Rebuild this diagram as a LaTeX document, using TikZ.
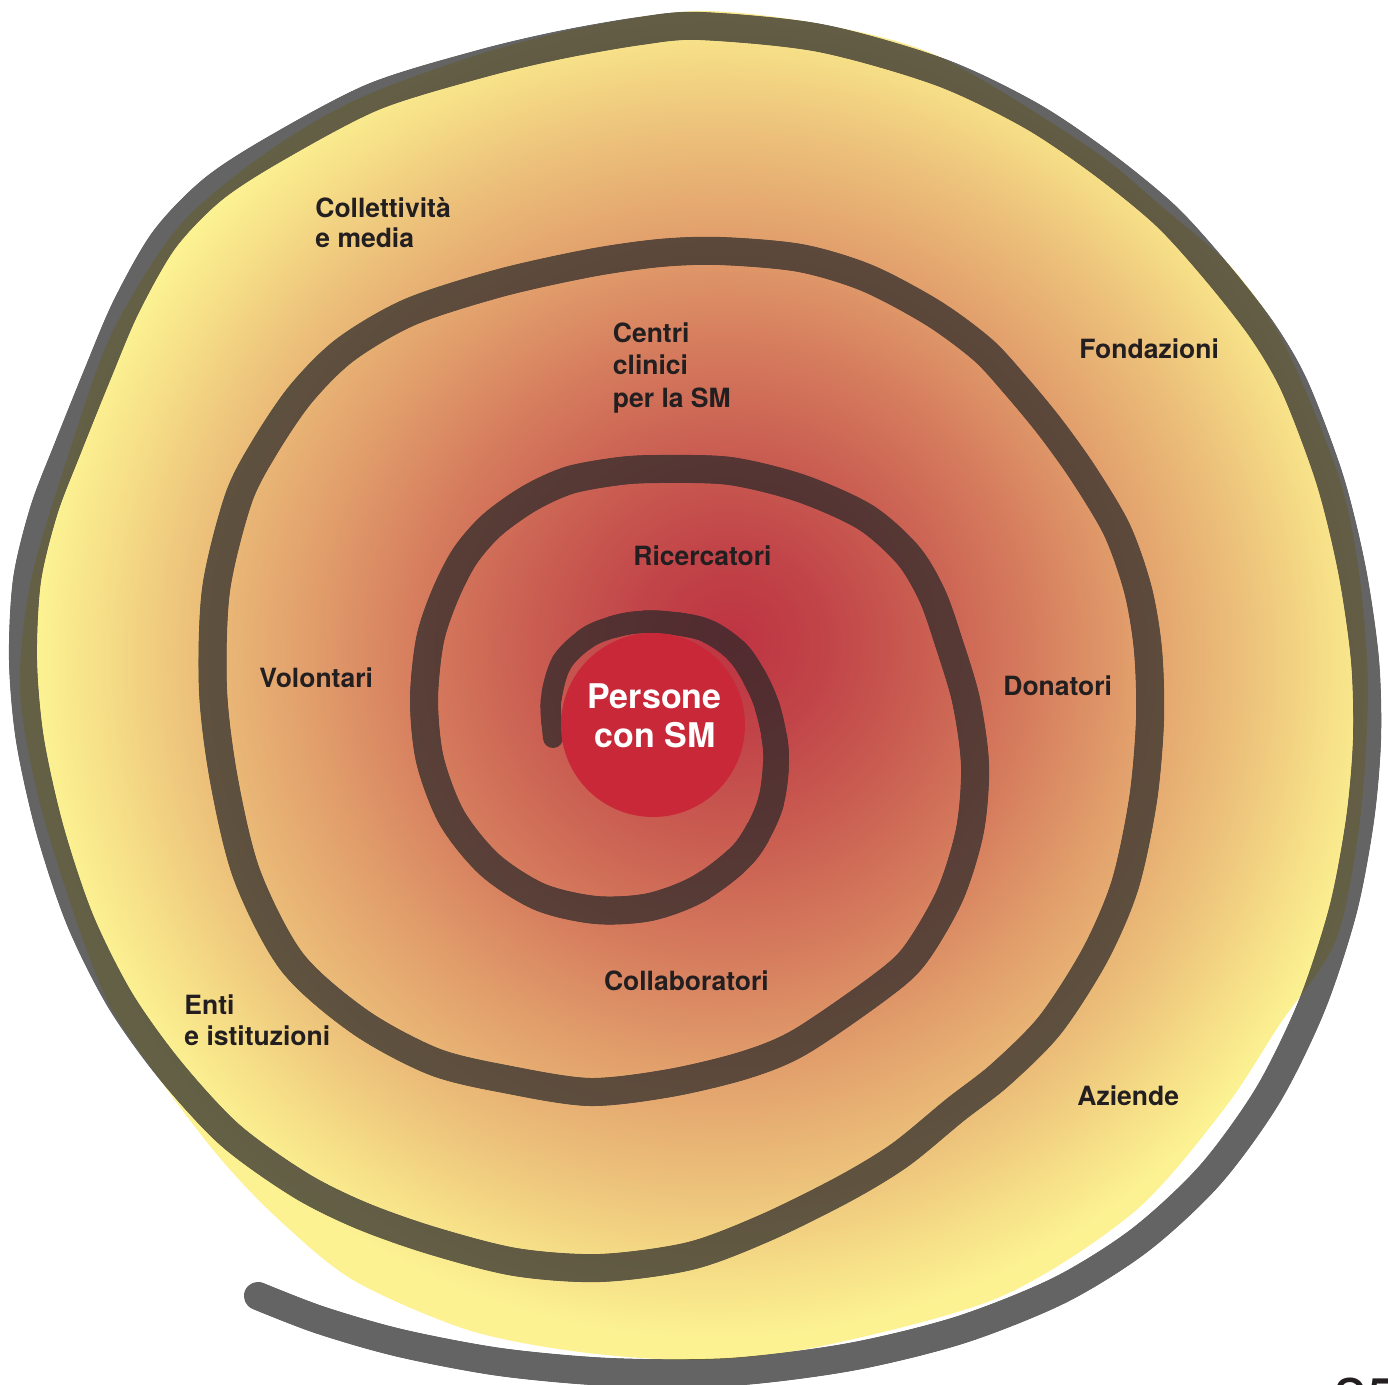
\documentclass[tikz,border=0pt]{standalone}
\usepackage{fontspec}
\setmainfont{TeX Gyre Heros}
\usetikzlibrary{calc}
\definecolor{txt}{RGB}{35,31,32}
\definecolor{corered}{RGB}{201,40,57}
\definecolor{ink}{RGB}{41,40,41}
\definecolor{g0}{RGB}{190,52,66}
\definecolor{g1}{RGB}{193,68,72}
\definecolor{g2}{RGB}{202,95,82}
\definecolor{g3}{RGB}{214,125,94}
\definecolor{g4}{RGB}{226,160,108}
\definecolor{g5}{RGB}{236,192,122}
\definecolor{g6}{RGB}{245,220,134}
\definecolor{g7}{RGB}{252,242,146}
\pgfdeclareradialshading{bgshade}{\pgfpoint{1.45bp}{1.7bp}}{color(0bp)=(g0); color(3.5bp)=(g1); color(7.5bp)=(g2); color(11.5bp)=(g3); color(15.5bp)=(g4); color(19.5bp)=(g5); color(22.5bp)=(g6); color(25bp)=(g7); color(50bp)=(g7)}
\newcommand\spiraldraw[1]{\draw[arm, line width=#1] plot[smooth] coordinates {
(553,738) (551,700) (562,662) (590,636) (625,624) (660,622) (705,630) (740,655)
(765,700) (776,752) (770,805) (745,852) (700,888)
(650,907) (596,910) (540,897) (490,865) (452,818) (430,760) (424,700)
(430,640) (445,595) (465,556) (492,525) (530,498) (570,480) (620,471) (660,469)
(730,471) (800,488) (865,517) (908,555) (932,595) (948,640) (966,700) (975,765)
(970,830) (950,895) (915,955) (880,987) (800,1042) (745,1065) (670,1083) (590,1092)
(510,1080) (435,1062) (360,1022) (292,962) (247,875) (224,780) (213,690)
(216,590) (238,500) (263,450) (300,395) (345,350) (410,312) (500,283) (590,263)
(660,253) (720,251) (800,258) (867,278) (933,313) (983,350) (1017,387) (1050,427)
(1083,473) (1117,530) (1138,590) (1148,650) (1150,720) (1143,800) (1125,885)
(1095,955) (1050,1025) (1000,1075) (955,1110) (900,1155) (844,1189) (765,1228)
(690,1256) (600,1268) (515,1262) (430,1240) (360,1215) (300,1185) (230,1135)
(170,1070) (120,1000) (80,920) (50,830) (30,740) (23,660) (27,580) (44,510)
(67,450) (98,373) (126,307) (164,240) (212,190) (273,150) (373,97) (480,64)
(560,45) (640,31) (700,26) (820,38) (940,72) (1030,115)
(1100,162) (1165,215) (1215,270) (1262,330) (1295,387) (1330,480) (1352,570)
(1365,660) (1367,740) (1360,820) (1343,910) (1312,1005) (1268,1095) (1210,1175)
(1140,1240) (1060,1290) (960,1330) (850,1357) (730,1372) (610,1372) (500,1362)
(400,1343) (320,1320) (258,1296)};}
\begin{document}
\begin{tikzpicture}[x=0.5pt,y=-0.5pt,
  lbl/.style={inner sep=0pt, anchor=base west, text=txt, font=\fontsize{13.25}{16}\selectfont\bfseries},
  corelbl/.style={inner sep=0pt, anchor=base, text=white, font=\fontsize{17}{20}\selectfont\bfseries},
  arm/.style={draw=ink, line cap=round, line join=round}]
\useasboundingbox (0,0) rectangle (1388,1385);
% background gradient blob
\shade[shading=bgshade] plot[smooth cycle] coordinates {
(700,11) (820,24) (940,57) (1090,148) (1160,205) (1232,268) (1285,345) (1340,480)
(1360,580) (1368,690) (1360,820) (1336,940) (1280,1024) (1224,1109) (1134,1212)
(1000,1297) (822,1346) (700,1360) (580,1352) (468,1330) (353,1280) (276,1217)
(219,1157) (160,1080) (110,1006) (76,920) (39,800) (20,690) (31,580) (70,450)
(112,333) (180,225) (270,150) (360,98) (480,54) (590,26)};
% spiral, tapering at its inner end
\coordinate (O) at (655,745);
\begin{scope}[transparency group, opacity=0.72]
\spiraldraw{10pt}
\foreach \k in {1,...,17}{
  \pgfmathsetmacro\astart{185-15*\k}
  \pgfmathsetmacro\anext{\astart+15}
  \pgfmathsetmacro\wid{10+4*\k/17}
  \begin{scope}
  \clip (-10,-10) -- (1400,-10) -- (1400,1400) -- (-10,1400) -- cycle
    (O) \foreach \t in {\astart,\anext,...,185}{ -- ($(O)+(-\t:200)$) } -- cycle;
  \spiraldraw{\wid pt}
  \end{scope}
}
\end{scope}
% core
\fill[corered] (653,725) circle[radius=46pt];
\node[corelbl] (pers1) at (654.5,708.3) {Persone};
\node[corelbl] (pers2) at (655,747.7) {con SM};
% labels
\node[lbl] (coll1) at (315,217.4) {Collettività};
\node[lbl] (coll2) at (315,248) {e media};
\node[lbl] (cent1) at (612.5,343) {Centri};
\node[lbl] (cent2) at (612.5,375) {clinici};
\node[lbl] (cent3) at (612.5,407.5) {per la SM};
\node[lbl] (fond) at (1079,358.5) {Fondazioni};
\node[lbl] (ric) at (633,566) {Ricercatori};
\node[lbl] (vol) at (259,687.5) {Volontari};
\node[lbl] (don) at (1003,695.5) {Donatori};
\node[lbl] (collab) at (603.6,990.8) {Collaboratori};
\node[lbl] (enti1) at (184,1014) {Enti};
\node[lbl] (enti2) at (184,1045.5) {e istituzioni};
\node[lbl] (az) at (1077,1105.5) {Aziende};
\node[inner sep=0pt, anchor=base west, text=txt, font=\fontsize{30}{36}\selectfont] (pagenum) at (1333,1420) {25};
\end{tikzpicture}
\end{document}
